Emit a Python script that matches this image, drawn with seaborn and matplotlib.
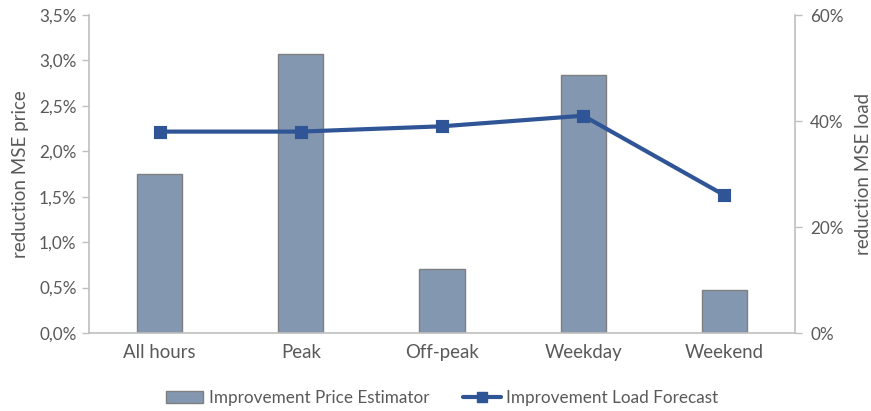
import matplotlib
matplotlib.use("Agg")
import matplotlib.pyplot as plt
from matplotlib.ticker import FuncFormatter, MultipleLocator
from matplotlib.patches import Patch
from matplotlib.lines import Line2D
import seaborn as sns
import pandas as pd

# Reduction of MSE per time segment (values in percent)
segments = ["All hours", "Peak", "Off-peak", "Weekday", "Weekend"]
price_reduction = [1.75, 3.07, 0.70, 2.84, 0.47]
load_reduction = [38, 38, 39, 41, 26]

price_label = "Improvement Price Estimator"
load_label = "Improvement Load Forecast"

bar_color = "#8497B0"
bar_edge = "#7F7F7F"
line_color = "#2F5597"
text_color = "#595959"
axis_color = "#BFBFBF"

sns.set_theme(style="white")
plt.rcParams["font.family"] = ["Lato", "DejaVu Sans"]

df = pd.DataFrame({"segment": segments, "price": price_reduction, "load": load_reduction})

fig = plt.figure(figsize=(8.71, 4.11), dpi=100)
ax = fig.add_axes([89 / 871, 1 - 333 / 411, (795 - 89) / 871, (333 - 15) / 411])

sns.barplot(data=df, x="segment", y="price", ax=ax, color=bar_color,
            width=0.32, edgecolor=bar_edge, linewidth=1.0, saturation=1)

ax2 = ax.twinx()
sns.pointplot(data=df, x="segment", y="load", ax=ax2, color=line_color,
              markers="s", linestyles="-", markersize=6.5, linewidth=3)

ax.set_xlim(-0.5, len(segments) - 0.5)
ax.set_ylim(0, 3.5)
ax2.set_ylim(0, 60)
ax.yaxis.set_major_locator(MultipleLocator(0.5))
ax2.yaxis.set_major_locator(MultipleLocator(20))
ax.yaxis.set_major_formatter(FuncFormatter(lambda v, p: f"{v:.1f}%".replace(".", ",")))
ax2.yaxis.set_major_formatter(FuncFormatter(lambda v, p: f"{v:.0f}%"))

ax.set_xlabel("")
ax.set_ylabel("reduction MSE price", fontsize=13.5, color=text_color, labelpad=7)
ax2.set_ylabel("reduction MSE load", fontsize=13.5, color=text_color, labelpad=8)

for a in (ax, ax2):
    for s in a.spines.values():
        s.set_visible(False)
ax.spines["left"].set_visible(True)
ax.spines["bottom"].set_visible(True)
ax2.spines["right"].set_visible(True)
for s in (ax.spines["left"], ax.spines["bottom"], ax2.spines["right"]):
    s.set_color(axis_color)
    s.set_linewidth(1.2)

ax.tick_params(axis="y", which="major", direction="out", length=5, width=1,
               color=axis_color, labelcolor=text_color, labelsize=12.3, left=True, pad=4)
ax.tick_params(axis="x", length=0, labelcolor=text_color, labelsize=13.4, pad=8)
ax2.tick_params(axis="y", which="major", direction="out", length=5, width=1,
                color=axis_color, labelcolor=text_color, labelsize=12.3, right=True, pad=6)

handles = [
    Patch(facecolor=bar_color, edgecolor=bar_edge, linewidth=1.0, label=price_label),
    Line2D([0], [0], color=line_color, lw=3, marker="s", markersize=6.5, label=load_label),
]
fig.legend(handles=handles, loc="center", bbox_to_anchor=(442 / 871, 1 - 398 / 411),
           ncol=2, frameon=False, fontsize=12.3, labelcolor=text_color,
           handlelength=2.2, handletextpad=0.3, columnspacing=2.0)

fig.savefig("out.png", dpi=100)
